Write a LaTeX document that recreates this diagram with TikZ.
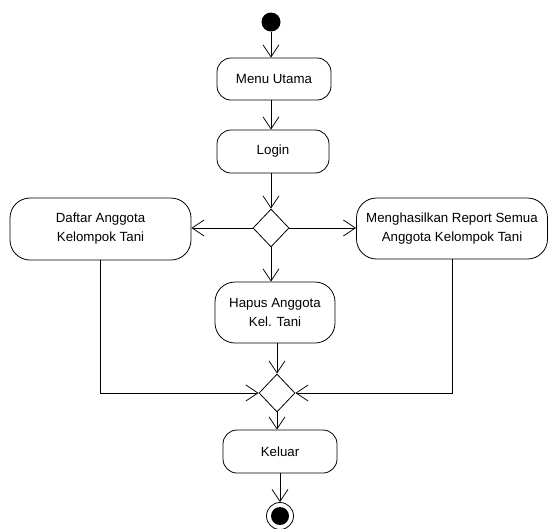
\documentclass[tikz,border=0pt]{standalone}
\usepackage{fontspec}
\setmainfont{Liberation Sans}
\usetikzlibrary{arrows.meta,shapes.geometric,calc}
\begin{document}
\begin{tikzpicture}[x=1pt,y=-1pt,
  act/.style={draw, line width=0.8pt, rounded corners=#1, align=center,
    font=\fontsize{13.3}{19}\selectfont, inner sep=0pt},
  act/.default=14pt,
  dec/.style={draw, line width=0.8pt, diamond, inner sep=0pt,
    minimum width=36pt, minimum height=38pt},
  flow/.style={line width=0.8pt, -{Straight Barb[length=12pt,width=16pt,line width=0.8pt]}},
  line/.style={line width=0.8pt}
]
\useasboundingbox (0,0) rectangle (548,528);

\node[circle, fill=black, minimum size=19pt, inner sep=0pt] (start) at (271,22) {};
\node[act, minimum width=114pt, minimum height=42pt] (menu) at (274,79) {Menu Utama};
\node[act, minimum width=112pt, minimum height=43pt] (login) at (273,151.5) {Login};
\node[dec] (dec1) at (271,228) {};
\node[act=20pt, minimum width=181pt, minimum height=62pt] (daftar) at (100.5,229) {Daftar Anggota\\Kelompok Tani};
\node[act=20pt, minimum width=191pt, minimum height=61pt] (report) at (452,228.5) {Menghasilkan Report Semua\\Anggota Kelompok Tani};
\node[act=20pt, minimum width=120pt, minimum height=61pt] (hapus) at (275,312.5) {Hapus Anggota\\Kel. Tani};
\node[dec] (dec2) at (277,393) {};
\node[act, minimum width=114pt, minimum height=43pt] (keluar) at (280,451.5) {Keluar};
\node[circle, draw, line width=0.8pt, minimum size=27pt, inner sep=0pt] (end) at (280,516) {};
\fill (end.center) circle (9pt);

\draw[flow] (start.south) -- (start.south |- menu.north);
\draw[flow] (menu.south -| start) -- (login.north -| start);
\draw[flow] (login.south -| start) -- (dec1.north);
\draw[flow] (dec1.west) -- (dec1.west -| daftar.east);
\draw[flow] (dec1.east) -- (dec1.east -| report.west);
\draw[flow] (dec1.south) -- (dec1.south |- hapus.north);
\draw[flow] (hapus.south -| dec2.north) -- (dec2.north);
\draw[flow] (daftar.south) |- (dec2.west);
\draw[flow] (report.south) |- (dec2.east);
\draw[flow] (dec2.south) -- (dec2.south |- keluar.north);
\draw[flow] (keluar.south -| end) -- (end.north);
\end{tikzpicture}
\end{document}
